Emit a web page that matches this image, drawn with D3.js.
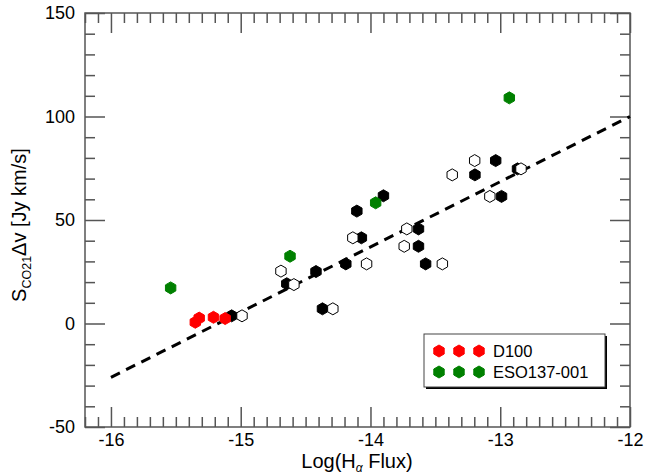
<!DOCTYPE html>
<html><head><meta charset="utf-8">
<script src="https://cdn.jsdelivr.net/npm/d3@7"></script>
<style>body{margin:0;background:#fff}svg{display:block}text{font-family:"Liberation Sans",Arial,Helvetica,sans-serif}</style>
</head><body>
<script>
const blackX = [-15.07,-14.645,-14.42,-14.37,-14.19,-14.105,-14.07,-13.90,-13.63,-13.63,-13.575,-13.195,-13.035,-12.99,-12.867];
const blackY = [3.7,19.2,25.1,7.1,28.8,54.3,41.4,61.7,45.7,37.3,28.8,71.8,78.7,61.4,74.7];
const openX = [-14.99,-14.69,-14.59,-14.29,-14.136,-14.03,-13.72,-13.74,-13.446,-13.37,-13.197,-13.08,-12.84];
const openY = [3.7,25.3,18.8,7.1,41.4,28.8,45.7,37.3,28.8,71.8,78.7,61.4,74.7];
const d100X = [-15.35,-15.32,-15.21,-15.12];
const d100Y = [0.6,2.6,3.0,2.4];
const esoX = [-15.54,-14.62,-13.96,-12.93];
const esoY = [17.2,32.5,58.3,109];
const fitX = [-16,-12];
const fitY = [-26,100];
const xTicks = [-16,-15,-14,-13,-12];
const xTickLabels = ["-16","-15","-14","-13","-12"];
const yTicks = [150,100,50,0,-50];
const yTickLabels = ["150","100","50","0","-50"];
const legendNames = ["D100","ESO137-001"];
const legendColors = ["#ff0000","#008000"];

const W=646,H=476;
const svg=d3.select("body").append("svg").attr("width",W).attr("height",H);
const x=d3.scaleLinear().domain([-16.2,-12]).range([85,630]);
const y=d3.scaleLinear().domain([-50,150]).range([427,13]);
const frameCol="#555";

const xMinor=d3.range(-162,-119).map(v=>v/10).filter(v=>!xTicks.some(t=>Math.abs(t-v)<1e-6));
const yMinor=d3.range(-50,151,10).filter(v=>!yTicks.includes(v));

function styleAxis(g){g.select(".domain").remove();g.selectAll("line").attr("stroke",frameCol).attr("stroke-width",1.5);g.selectAll("text").attr("font-size",18).attr("fill","#000");}

// bottom
svg.append("g").attr("transform",`translate(0,${y(-50)})`).call(d3.axisBottom(x).tickValues(xTicks).tickFormat((d,i)=>xTickLabels[i]).tickSize(-20).tickSizeOuter(0).tickPadding(6.5)).call(styleAxis);
svg.append("g").attr("transform",`translate(0,${y(-50)})`).call(d3.axisBottom(x).tickValues(xMinor).tickFormat("").tickSize(-10).tickSizeOuter(0)).call(styleAxis);
// top
svg.append("g").attr("transform",`translate(0,${y(150)})`).call(d3.axisTop(x).tickValues(xTicks).tickFormat("").tickSize(-20).tickSizeOuter(0)).call(styleAxis);
svg.append("g").attr("transform",`translate(0,${y(150)})`).call(d3.axisTop(x).tickValues(xMinor).tickFormat("").tickSize(-10).tickSizeOuter(0)).call(styleAxis);
// left
svg.append("g").attr("transform",`translate(${x(-16.2)},0)`).call(d3.axisLeft(y).tickValues(yTicks).tickFormat((d,i)=>yTickLabels[i]).tickSize(-20).tickSizeOuter(0).tickPadding(10)).call(styleAxis);
svg.append("g").attr("transform",`translate(${x(-16.2)},0)`).call(d3.axisLeft(y).tickValues(yMinor).tickFormat("").tickSize(-10).tickSizeOuter(0)).call(styleAxis);
// right
svg.append("g").attr("transform",`translate(${x(-12)},0)`).call(d3.axisRight(y).tickValues(yTicks).tickFormat("").tickSize(-20).tickSizeOuter(0)).call(styleAxis);
svg.append("g").attr("transform",`translate(${x(-12)},0)`).call(d3.axisRight(y).tickValues(yMinor).tickFormat("").tickSize(-10).tickSizeOuter(0)).call(styleAxis);

svg.append("rect").attr("x",x(-16.2)).attr("y",y(150)).attr("width",x(-12)-x(-16.2)).attr("height",y(-50)-y(150)).attr("fill","none").attr("stroke",frameCol).attr("stroke-width",1.5);

// fit line
svg.append("path").attr("d",d3.line().x(d=>x(d[0])).y(d=>y(d[1]))(fitX.map((v,i)=>[v,fitY[i]])))
  .attr("stroke","#000").attr("stroke-width",3).attr("stroke-dasharray","10,7").attr("fill","none");

const R=6;
const hex=d3.range(6).map(i=>{const a=Math.PI/3*i-Math.PI/2;return [R*Math.cos(a),R*Math.sin(a)];});
const hexPath="M"+hex.map(p=>p[0].toFixed(2)+","+p[1].toFixed(2)).join("L")+"Z";
function pts(xs,ys,fill,stroke){
  svg.append("g").selectAll("path").data(xs.map((v,i)=>[v,ys[i]])).join("path")
    .attr("d",hexPath).attr("transform",d=>`translate(${x(d[0])},${y(d[1])})`)
    .attr("fill",fill).attr("stroke",stroke).attr("stroke-width",1);
}
pts(blackX,blackY,"#000","#000");
pts(openX,openY,"#fff","#000");
pts(d100X,d100Y,legendColors[0],legendColors[0]);
pts(esoX,esoY,legendColors[1],legendColors[1]);

// legend
const lg=svg.append("g");
lg.append("rect").attr("x",426).attr("y",336).attr("width",181).attr("height",53).attr("fill","#000");
lg.append("rect").attr("x",424).attr("y",334).attr("width",181).attr("height",53).attr("fill","#fff").attr("stroke","#444").attr("stroke-width",1);
legendNames.forEach((n,i)=>{
  const yy=351+i*21;
  [439,459,479].forEach(xx=>lg.append("path").attr("d",hexPath).attr("transform",`translate(${xx},${yy})`).attr("fill",legendColors[i]).attr("stroke",legendColors[i]));
  lg.append("text").attr("x",493).attr("y",yy+6).attr("font-size",16.5).text(n);
});

// axis titles
const xl=svg.append("text").attr("x",357).attr("y",468).attr("text-anchor","middle").attr("font-size",20);
xl.append("tspan").text("Log(H");
xl.append("tspan").attr("font-size",12).attr("font-style","italic").attr("dy",4).text("α");
xl.append("tspan").attr("dy",-4).text(" Flux)");
const yl=svg.append("text").attr("transform","translate(26,225) rotate(-90)").attr("text-anchor","middle").attr("font-size",20);
yl.append("tspan").text("S");
yl.append("tspan").attr("font-size",12.5).attr("dy",5).text("CO21");
yl.append("tspan").attr("dy",-5).text("Δv [Jy km/s]");
</script>
</body></html>
